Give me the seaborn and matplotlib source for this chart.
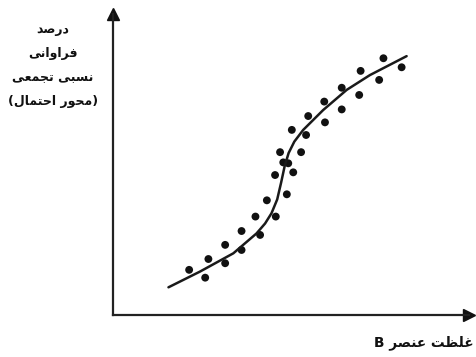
import matplotlib
matplotlib.use("Agg")
import matplotlib.pyplot as plt
import seaborn as sns

# scatter points (arbitrary 0-100 units)
point_x = [21.5, 26.0, 26.9, 31.6, 31.6, 36.2, 36.2, 41.4, 40.1, 45.8,
           43.3, 48.9, 45.6, 50.7, 47.9, 49.3, 47.0, 52.9, 50.3, 54.3,
           54.9, 59.6, 59.4, 64.3, 64.3, 69.2, 69.6, 74.8, 76.0, 81.1]
point_y = [15.0, 12.4, 18.6, 17.2, 23.3, 21.6, 27.9, 26.6, 32.7, 32.7,
           38.1, 40.1, 46.5, 47.4, 50.7, 50.4, 54.1, 54.1, 61.5, 59.8,
           66.1, 64.0, 70.9, 68.3, 75.5, 73.1, 81.1, 78.1, 85.3, 82.3]

# fitted S-curve
curve_x = [15.7, 24.5, 33.9, 40.4, 42.8, 44.6, 46.2, 47.3, 48.3, 49.4,
           51.0, 53.5, 59.1, 65.7, 72.2, 82.5]
curve_y = [9.2, 14.4, 20.5, 27.1, 30.4, 33.8, 38.4, 44.0, 49.5, 53.8,
           57.6, 61.5, 68.1, 74.8, 79.7, 86.0]

y_label_lines = ["درصد", "فراوانی", "نسبی تجمعی", "(محور احتمال)"]
x_label = "غلظت عنصر B"

# contextual forms: isolated, final, initial, medial
FORMS = {
    'ا': ('\uFE8D', '\uFE8E', None, None),
    'ب': ('\uFE8F', '\uFE90', '\uFE91', '\uFE92'),
    'ت': ('\uFE95', '\uFE96', '\uFE97', '\uFE98'),
    'ج': ('\uFE9D', '\uFE9E', '\uFE9F', '\uFEA0'),
    'ح': ('\uFEA1', '\uFEA2', '\uFEA3', '\uFEA4'),
    'د': ('\uFEA9', '\uFEAA', None, None),
    'ر': ('\uFEAD', '\uFEAE', None, None),
    'س': ('\uFEB1', '\uFEB2', '\uFEB3', '\uFEB4'),
    'ص': ('\uFEB9', '\uFEBA', '\uFEBB', '\uFEBC'),
    'ظ': ('\uFEC5', '\uFEC6', '\uFEC7', '\uFEC8'),
    'ع': ('\uFEC9', '\uFECA', '\uFECB', '\uFECC'),
    'غ': ('\uFECD', '\uFECE', '\uFECF', '\uFED0'),
    'ف': ('\uFED1', '\uFED2', '\uFED3', '\uFED4'),
    'ل': ('\uFEDD', '\uFEDE', '\uFEDF', '\uFEE0'),
    'م': ('\uFEE1', '\uFEE2', '\uFEE3', '\uFEE4'),
    'ن': ('\uFEE5', '\uFEE6', '\uFEE7', '\uFEE8'),
    'و': ('\uFEED', '\uFEEE', None, None),
    'ی': ('\uFEEF', '\uFEF0', '\uFEF3', '\uFEF4'),
}


def rtl(text):
    out = []
    for i, c in enumerate(text):
        if c not in FORMS:
            out.append(c)
            continue
        prev = text[i - 1] if i > 0 else ''
        nxt = text[i + 1] if i + 1 < len(text) else ''
        jp = prev in FORMS and FORMS[prev][2] is not None
        jn = nxt in FORMS and FORMS[c][2] is not None
        f = FORMS[c]
        if jp and jn:
            out.append(f[3])
        elif jp:
            out.append(f[1])
        elif jn:
            out.append(f[2])
        else:
            out.append(f[0])
    s = ''.join(reversed(out))
    return s.translate(str.maketrans('()', ')('))


sns.set_style("white")
plt.rcParams['font.family'] = ['DejaVu Sans']

W, H = 476, 357
fig = plt.figure(figsize=(W / 100, H / 100), dpi=100)
ax = fig.add_axes([112.5 / W, 1 - 315 / H, (469 - 112.5) / W, (315 - 14) / H])

sns.lineplot(x=curve_x, y=curve_y, ax=ax, sort=False, estimator=None,
             color="#1a1a1a", linewidth=1.8)
sns.scatterplot(x=point_x, y=point_y, ax=ax, s=32, color="#111111",
                edgecolor="none")

ax.set_xlim(0, 100)
ax.set_ylim(0, 100)
ax.set_xticks([])
ax.set_yticks([])
sns.despine(ax=ax)
for sp in ("left", "bottom"):
    ax.spines[sp].set_linewidth(1.6)
    ax.spines[sp].set_color("#222222")

# arrow heads
ax.plot(0, 1, marker="^", markersize=9, color="#111111",
        transform=ax.transAxes, clip_on=False)
ax.plot(1, 0, marker=">", markersize=9, color="#111111",
        transform=ax.transAxes, clip_on=False)

ys = [29, 53, 78, 101]
for line, yp in zip(y_label_lines, ys):
    fig.text(53 / W, 1 - yp / H, rtl(line), ha="center", va="center",
             fontsize=9, fontweight="bold", color="#111111")

fig.text(424 / W, 1 - 343 / H, rtl(x_label), ha="center", va="center",
         fontsize=9.8, fontweight="bold", color="#111111")

fig.savefig("out.png", dpi=100)
